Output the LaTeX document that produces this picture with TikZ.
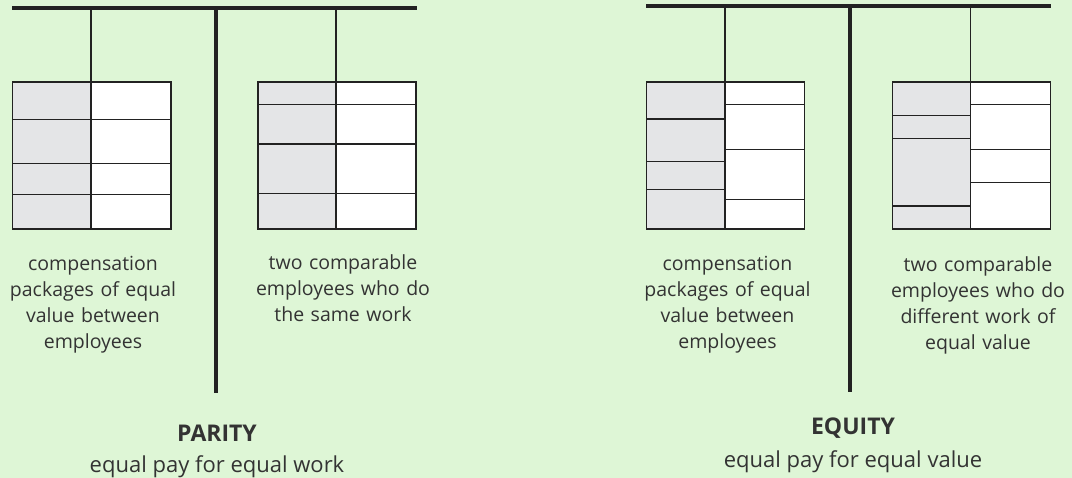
\documentclass[tikz,border=0pt]{standalone}
\usepackage{fontspec}
\setmainfont{Open Sans}
\definecolor{bg}{RGB}{222,246,214}
\definecolor{cellgray}{RGB}{228,229,231}
\definecolor{ink}{RGB}{34,34,34}
\definecolor{txt}{RGB}{51,51,51}
\begin{document}
\begin{tikzpicture}[x=1pt,y=-1pt,
  bar/.style={draw=ink,line width=3.6pt},
  post/.style={draw=ink,line width=4pt},
  hanger/.style={draw=ink,line width=1.2pt},
  cellline/.style={draw=ink,line width=1.2pt},
  graycell/.style={fill=cellgray},
  whitecell/.style={fill=white},
  desc/.style={text=txt,font=\fontsize{19.5}{26}\selectfont,align=center,text width=220pt,inner sep=0pt},
  title/.style={text=txt,font=\fontsize{23}{26}\selectfont\bfseries,inner sep=0pt},
  subtitle/.style={text=txt,font=\fontsize{22}{26}\selectfont,inner sep=0pt}]
\fill[bg] (0,0) rectangle (1072,478);
\useasboundingbox (0,0) rectangle (1072,478);

% ---------- PARITY ----------
\coordinate (pbarL) at (12,8);
\coordinate (pbarR) at (417,8);
\coordinate (ppostT) at (215.5,8);
\coordinate (ppostB) at (215.5,393);
\coordinate (pha) at (91,8);
\coordinate (phb) at (336,8);
\coordinate (pboxA) at (91,82);
\coordinate (pboxB) at (336,82);
\draw[hanger] (pha) -- (pboxA);
\draw[hanger] (phb) -- (pboxB);
% box A
\fill[graycell] (12.7,82) rectangle (91,229);
\fill[whitecell] (91,82) rectangle (171,229);
\draw[cellline] (12.7,119.7) -- (171,119.7) (12.7,163.3) -- (171,163.3) (12.7,194.3) -- (171,194.3);
\draw[cellline] (91,82) -- (91,229);
\draw[cellline] (12.7,82) rectangle (171,229);
% box B
\fill[graycell] (258,82) rectangle (336,229);
\fill[whitecell] (336,82) rectangle (416,229);
\draw[cellline] (258,104.3) -- (416,104.3) (258,144) -- (416,144) (258,193.3) -- (416,193.3);
\draw[cellline] (336,82) -- (336,229);
\draw[cellline] (258,82) rectangle (416,229);
\draw[bar] (pbarL) -- (pbarR);
\draw[post] (ppostT) -- (ppostB);
\node[desc] (pdescA) at (93,305) {compensation\\packages of equal\\value between\\employees};
\node[desc] (pdescB) at (343,288) {two comparable\\employees who do\\the same work};
\node[title] (ptitle) at (217,433) {PARITY};
\node[subtitle] (psub) at (217,467) {equal pay for equal work};

% ---------- EQUITY ----------
\coordinate (ebarL) at (646,6);
\coordinate (ebarR) at (1051,6);
\coordinate (epostT) at (849.7,6);
\coordinate (epostB) at (849.7,392);
\coordinate (eha) at (725,6);
\coordinate (ehb) at (970.7,6);
\coordinate (eboxC) at (725,82);
\coordinate (eboxD) at (970.7,82);
\draw[hanger] (eha) -- (eboxC);
\draw[hanger] (ehb) -- (eboxD);
% box C
\fill[graycell] (646.7,82) rectangle (725,229);
\fill[whitecell] (725,82) rectangle (804.3,229);
\draw[cellline] (646.7,119) -- (725,119) (646.7,161.3) -- (725,161.3) (646.7,189.3) -- (725,189.3);
\draw[cellline] (725,104.3) -- (804.3,104.3) (725,149.3) -- (804.3,149.3) (725,199.3) -- (804.3,199.3);
\draw[cellline] (725,82) -- (725,229);
\draw[cellline] (646.7,82) rectangle (804.3,229);
% box D
\fill[graycell] (892.3,82) rectangle (970.7,229);
\fill[whitecell] (970.7,82) rectangle (1050.3,229);
\draw[cellline] (892.3,115.3) -- (970.7,115.3) (892.3,138.3) -- (970.7,138.3) (892.3,206) -- (970.7,206);
\draw[cellline] (970.7,104.3) -- (1050.3,104.3) (970.7,149.3) -- (1050.3,149.3) (970.7,182.3) -- (1050.3,182.3);
\draw[cellline] (970.7,82) -- (970.7,229);
\draw[cellline] (892.3,82) rectangle (1050.3,229);
\draw[bar] (ebarL) -- (ebarR);
\draw[post] (epostT) -- (epostB);
\node[desc] (edescC) at (727.5,305) {compensation\\packages of equal\\value between\\employees};
\node[desc] (edescD) at (978,305) {two comparable\\employees who do\\different work of\\equal value};
\node[title] (etitle) at (853,428) {EQUITY};
\node[subtitle] (esub) at (853,462) {equal pay for equal value};
\end{tikzpicture}
\end{document}
